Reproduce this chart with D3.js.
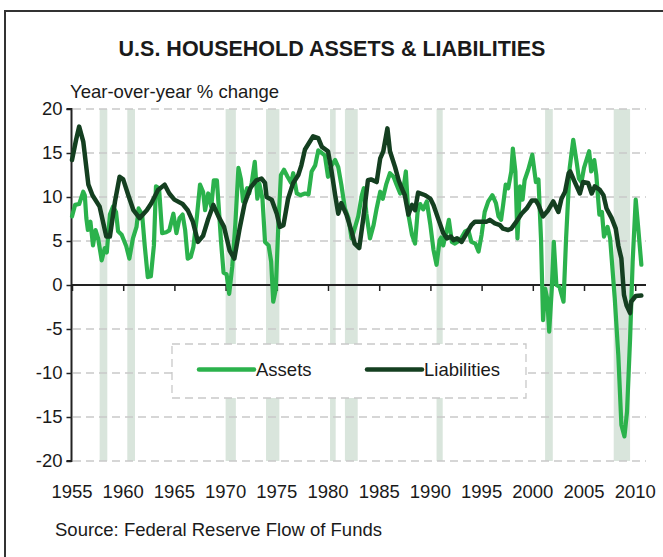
<!DOCTYPE html>
<html><head><meta charset="utf-8">
<script src="https://cdn.jsdelivr.net/npm/d3@7"></script>
<style>html,body{margin:0;padding:0;background:#fff;}svg{display:block;font-family:"Liberation Sans",Arial,sans-serif;}</style>
</head><body>
<svg id="c" width="663" height="557"></svg>
<script>
const title = "U.S. HOUSEHOLD ASSETS & LIABILITIES";
const yAxisTitle = "Year-over-year % change";
const sourceText = "Source: Federal Reserve Flow of Funds";
const xTicks = [1955,1960,1965,1970,1975,1980,1985,1990,1995,2000,2005,2010];
const yTicks = [-20,-15,-10,-5,0,5,10,15,20];
const seriesNames = ["Assets","Liabilities"];
const recessions = [[1957.7,1958.45],[1960.4,1961.15],[1970.0,1971.0],[1973.95,1975.25],[1980.2,1980.75],[1981.65,1982.9],[1990.6,1991.2],[2001.2,2001.95],[2007.9,2009.5]];
const assets = [[1955.0,7.8],[1955.3,9.1],[1955.7,9.2],[1956.1,10.6],[1956.25,10.2],[1956.4,7.6],[1956.55,6.25],[1956.8,7.2],[1957.05,4.5],[1957.3,6.25],[1957.55,5.3],[1957.9,2.8],[1958.2,4.2],[1958.4,3.7],[1958.7,8.0],[1959.0,8.9],[1959.3,8.3],[1959.5,6.1],[1959.85,5.7],[1960.3,4.4],[1960.6,3.0],[1960.95,5.3],[1961.3,6.6],[1961.5,8.7],[1961.85,8.0],[1962.1,4.5],[1962.4,0.9],[1962.7,1.0],[1963.0,4.5],[1963.2,11.2],[1963.5,11.0],[1963.8,5.9],[1964.2,6.0],[1964.5,6.2],[1964.9,8.1],[1965.2,5.9],[1965.5,7.6],[1965.8,8.0],[1966.05,6.25],[1966.3,3.0],[1966.6,3.2],[1966.85,4.3],[1967.2,7.8],[1967.5,11.4],[1967.8,10.6],[1968.0,8.5],[1968.3,10.4],[1968.6,8.9],[1968.85,11.9],[1969.15,11.9],[1969.35,8.5],[1969.55,5.0],[1969.8,1.4],[1970.1,1.2],[1970.35,-1.0],[1970.65,2.1],[1970.95,6.9],[1971.25,13.3],[1971.5,12.0],[1971.7,9.5],[1972.1,11.0],[1972.3,10.4],[1972.55,11.6],[1972.85,14.0],[1973.1,9.8],[1973.3,11.5],[1973.6,9.8],[1973.85,4.9],[1974.2,4.5],[1974.45,2.65],[1974.65,-1.9],[1974.9,-0.5],[1975.15,6.8],[1975.4,12.5],[1975.7,13.1],[1976.05,12.3],[1976.4,11.6],[1976.6,12.7],[1976.95,10.4],[1977.3,10.2],[1977.75,10.4],[1978.1,10.3],[1978.4,12.9],[1978.75,13.6],[1979.05,15.3],[1979.4,15.0],[1979.7,14.7],[1980.0,12.3],[1980.35,13.6],[1980.7,14.2],[1981.0,13.4],[1981.3,11.4],[1981.65,8.7],[1982.0,7.6],[1982.3,5.3],[1982.6,6.4],[1982.95,7.8],[1983.3,10.2],[1983.5,11.0],[1983.75,8.1],[1984.1,5.3],[1984.45,6.8],[1984.75,8.7],[1985.1,10.6],[1985.35,9.8],[1985.7,11.5],[1986.05,12.7],[1986.4,12.3],[1986.7,11.4],[1987.05,10.4],[1987.4,11.2],[1987.6,12.9],[1987.85,8.0],[1988.2,5.7],[1988.5,4.7],[1988.75,8.3],[1989.0,9.2],[1989.3,8.6],[1989.65,9.5],[1990.0,6.8],[1990.3,4.0],[1990.6,2.3],[1990.9,5.1],[1991.05,5.4],[1991.25,4.5],[1991.6,6.25],[1991.8,7.4],[1992.1,4.9],[1992.4,4.7],[1992.9,5.1],[1993.4,6.1],[1993.7,6.25],[1994.0,4.9],[1994.4,4.7],[1994.7,3.8],[1995.0,5.7],[1995.3,8.3],[1995.65,9.5],[1996.05,10.2],[1996.4,9.3],[1996.65,7.8],[1996.9,7.4],[1997.1,9.1],[1997.35,11.4],[1997.6,11.0],[1997.9,12.9],[1998.05,15.5],[1998.3,12.9],[1998.5,5.3],[1998.75,11.2],[1999.0,9.7],[1999.2,11.9],[1999.55,13.1],[1999.95,14.8],[2000.3,11.7],[2000.55,12.0],[2000.8,5.3],[2001.0,-4.0],[2001.2,-0.4],[2001.4,-1.5],[2001.6,-5.3],[2001.85,-0.5],[2002.05,4.9],[2002.3,0.0],[2002.6,-0.2],[2003.0,-1.9],[2003.25,5.3],[2003.6,13.3],[2003.95,16.5],[2004.3,13.8],[2004.5,12.1],[2004.75,11.7],[2005.0,13.3],[2005.5,15.2],[2005.7,12.9],[2006.0,14.2],[2006.2,12.5],[2006.5,8.0],[2006.75,8.3],[2006.95,5.5],[2007.3,6.6],[2007.55,5.3],[2008.0,-1.5],[2008.35,-8.0],[2008.65,-15.9],[2008.95,-17.2],[2009.2,-14.4],[2009.5,-6.1],[2009.75,2.65],[2010.05,9.7],[2010.3,6.4],[2010.6,2.3]];
const liabilities = [[1955.0,14.2],[1955.4,16.5],[1955.7,18.0],[1956.1,16.3],[1956.6,11.4],[1957.0,10.2],[1957.7,8.9],[1958.35,5.5],[1958.7,5.5],[1959.2,9.5],[1959.65,12.3],[1960.0,12.0],[1960.5,10.2],[1961.0,8.5],[1961.6,7.6],[1962.3,8.5],[1962.75,9.3],[1963.4,10.8],[1964.05,11.4],[1964.5,10.4],[1965.0,9.7],[1965.8,9.2],[1966.3,8.5],[1966.8,7.2],[1967.3,4.9],[1967.8,5.6],[1968.3,7.5],[1968.8,9.1],[1969.3,7.8],[1969.85,6.6],[1970.4,3.9],[1970.85,3.0],[1971.35,6.3],[1971.85,9.2],[1972.4,11.0],[1973.0,11.9],[1973.5,12.1],[1973.85,11.6],[1974.0,10.0],[1974.5,9.7],[1975.0,8.1],[1975.3,6.6],[1975.65,6.8],[1976.1,9.8],[1976.6,11.6],[1977.1,12.5],[1977.4,13.6],[1977.75,15.4],[1978.55,16.9],[1979.05,16.7],[1979.4,15.7],[1980.0,15.2],[1980.35,12.9],[1980.7,10.2],[1981.0,8.1],[1981.3,9.3],[1981.8,8.0],[1982.3,6.1],[1982.6,4.7],[1983.05,4.2],[1983.45,7.6],[1983.9,11.9],[1984.2,12.0],[1984.75,11.7],[1985.1,14.4],[1985.4,15.2],[1985.8,17.8],[1986.05,15.2],[1986.55,13.4],[1986.9,11.9],[1987.2,11.0],[1987.5,10.2],[1987.85,8.0],[1988.2,9.1],[1988.5,8.5],[1988.8,10.5],[1989.5,10.2],[1990.0,9.8],[1990.3,9.1],[1990.8,7.4],[1991.25,5.9],[1991.6,5.3],[1992.0,5.5],[1992.25,5.1],[1992.6,5.3],[1993.05,4.9],[1993.55,5.9],[1994.0,6.8],[1994.35,7.2],[1995.0,7.2],[1995.5,7.2],[1995.8,7.4],[1996.3,7.0],[1996.8,6.8],[1997.1,6.4],[1997.6,6.25],[1997.9,6.4],[1998.4,7.2],[1998.9,8.1],[1999.4,8.7],[1999.9,9.6],[2000.3,9.6],[2000.55,9.1],[2001.0,7.8],[2001.5,8.5],[2002.0,9.5],[2002.5,8.3],[2002.8,9.8],[2003.15,10.6],[2003.5,12.7],[2003.65,12.9],[2004.1,11.7],[2004.6,10.4],[2004.9,11.7],[2005.4,11.6],[2005.75,10.4],[2006.05,11.2],[2006.55,10.8],[2006.9,10.2],[2007.2,8.7],[2007.7,7.6],[2008.1,6.4],[2008.35,4.5],[2008.65,3.0],[2008.9,-1.1],[2009.15,-2.3],[2009.5,-3.2],[2009.6,-1.9],[2010.05,-1.25],[2010.6,-1.2]];

const svg = d3.select("#c");
const colors = {assets:"#2bb24c", liab:"#143f20"};
const x = d3.scaleLinear().domain([1955, 2011.2]).range([72, 647.5]);
const y = d3.scaleLinear().domain([-20, 20]).range([461, 109]);

svg.append("rect").attr("width",663).attr("height",557).attr("fill","#fff");
svg.append("path").attr("d","M5,557V11H663").attr("fill","none").attr("stroke","#333").attr("stroke-width",2);

svg.append("text").attr("x",332).attr("y",56).attr("text-anchor","middle")
  .attr("font-size",21.5).attr("font-weight","bold").attr("fill","#1a1a1a").text(title);
svg.append("text").attr("x",70).attr("y",98).attr("font-size",18.5).attr("fill","#1a1a1a").text(yAxisTitle);
svg.append("text").attr("x",55).attr("y",536).attr("font-size",18.5).attr("fill","#1a1a1a").text(sourceText);

// recession bars
svg.append("g").selectAll("rect").data(recessions).join("rect")
  .attr("x",d=>x(d[0])).attr("width",d=>x(d[1])-x(d[0]))
  .attr("y",y(20)).attr("height",y(-20)-y(20)).attr("fill","#d9e5dc");

// gridlines
svg.append("g").selectAll("line").data(yTicks.filter(v=>v!==0)).join("line")
  .attr("x1",73).attr("x2",646).attr("y1",d=>y(d)).attr("y2",d=>y(d))
  .attr("stroke","#c9c9c9").attr("stroke-width",1.3).attr("stroke-dasharray","8,5");

// legend box
const lg = svg.append("g");
lg.append("rect").attr("x",172).attr("y",344).attr("width",354).attr("height",54)
  .attr("fill","#fff").attr("stroke","#c9c9c9").attr("stroke-width",1.3).attr("stroke-dasharray","8,5");
const legendItems = [{name:seriesNames[0],c:colors.assets,x0:199},{name:seriesNames[1],c:colors.liab,x0:367}];
legendItems.forEach(it=>{
  lg.append("line").attr("x1",it.x0).attr("x2",it.x0+55).attr("y1",369.5).attr("y2",369.5)
    .attr("stroke",it.c).attr("stroke-width",4.5).attr("stroke-linecap","round");
  lg.append("text").attr("x",it.x0+57).attr("y",370).attr("dy","0.35em").attr("font-size",18.5).attr("fill","#1a1a1a").text(it.name);
});

// y axis
const yAxis = d3.axisLeft(y).tickValues(yTicks).tickSize(5).tickPadding(4).tickFormat(d=>String(d));
const gy = svg.append("g").attr("transform","translate(71.5,0)").call(yAxis);
gy.select(".domain").attr("stroke","#222").attr("stroke-width",2).attr("d","M-5,109H0V461H-5");
gy.selectAll(".tick line").attr("stroke","#222").attr("stroke-width",1.5);
gy.selectAll(".tick text").attr("font-size",18.5).attr("fill","#1a1a1a").attr("font-family","Liberation Sans, Arial, sans-serif");

// x axis at zero
const xAxis = d3.axisBottom(x).tickValues(xTicks).tickSize(6).tickFormat(d=>String(d));
const gx = svg.append("g").attr("transform",`translate(0,${y(0)})`).call(xAxis);
gx.select(".domain").attr("stroke","#222").attr("stroke-width",2).attr("d","M71.5,0H646");
gx.selectAll(".tick line").attr("stroke","#222").attr("stroke-width",1.5);
gx.selectAll(".tick text").remove();
// x tick labels at bottom
svg.append("g").selectAll("text").data(xTicks).join("text")
  .attr("x",d=>x(d)).attr("y",498).attr("text-anchor","middle").attr("font-size",18.5).attr("fill","#1a1a1a").text(d=>d);

// lines
const line = d3.line().x(d=>x(d[0])).y(d=>y(d[1]));
svg.append("path").datum(assets).attr("d",line).attr("fill","none").attr("stroke",colors.assets)
  .attr("stroke-width",4.2).attr("stroke-linejoin","round").attr("stroke-linecap","round");
svg.append("path").datum(liabilities).attr("d",line).attr("fill","none").attr("stroke",colors.liab)
  .attr("stroke-width",4.5).attr("stroke-linejoin","round").attr("stroke-linecap","round");
</script>
</body></html>
